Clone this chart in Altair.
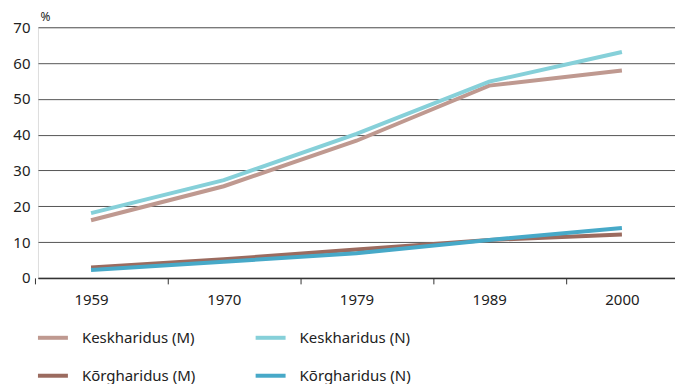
import altair as alt
import pandas as pd

years = ["1959", "1970", "1979", "1989", "2000"]
series_names = ["Keskharidus (M)", "Keskharidus (N)", "Kõrgharidus (M)", "Kõrgharidus (N)"]
kesk_m = [16.1, 25.6, 38.3, 53.7, 57.9]
kesk_n = [18.1, 27.3, 40.2, 54.8, 63.1]
korg_m = [2.9, 5.2, 7.9, 10.6, 12.1]
korg_n = [2.2, 4.5, 6.9, 10.6, 13.9]
colors = ["#bf9990", "#86d0d9", "#9b6b5f", "#47a9c8"]

rows = []
for name, vals in zip(series_names, [kesk_m, kesk_n, korg_m, korg_n]):
    for y, v in zip(years, vals):
        rows.append({"Aasta": y, "Seeria": name, "Väärtus": v})
df = pd.DataFrame(rows)

FONT = "Noto Sans"

chart = alt.Chart(df).mark_line(strokeWidth=4).encode(
    x=alt.X("Aasta:O", sort=years,
            scale=alt.Scale(type="point", padding=0.4),
            axis=alt.Axis(title=None, labelAngle=0, labelFontSize=15, labelPadding=9,
                          labelColor="#222", tickSize=6, tickOffset=-56, labelOffset=56,
                          tickColor="#333", domainColor="#333", domainWidth=1.5, grid=False)),
    y=alt.Y("Väärtus:Q",
            scale=alt.Scale(domain=[0, 70], nice=False),
            axis=alt.Axis(title="%", titleAngle=0, titleAlign="left", titleBaseline="bottom",
                          titleX=2, titleY=-4, titleFontSize=12, titleFontWeight="normal",
                          titleColor="#222", values=list(range(0, 71, 10)),
                          labelFontSize=15, labelColor="#222", labelPadding=8,
                          ticks=False, domain=False, gridColor="#555", gridWidth=1)),
    color=alt.Color("Seeria:N", sort=series_names,
                    scale=alt.Scale(domain=series_names, range=colors),
                    legend=alt.Legend(title=None, orient="none", legendX=-2, legendY=294,
                                      direction="horizontal", columns=2,
                                      symbolType="stroke", symbolSize=900,
                                      symbolStrokeWidth=4, labelFontSize=15, labelColor="#222",
                                      labelOffset=12, columnPadding=52, rowPadding=13)),
).properties(
    width=638, height=251,
    padding={"left": 4, "top": 2, "right": 0, "bottom": 0},
).configure_view(stroke=None).configure(font=FONT)

chart.save("out.html", embed_options={"renderer": "svg", "actions": False})
